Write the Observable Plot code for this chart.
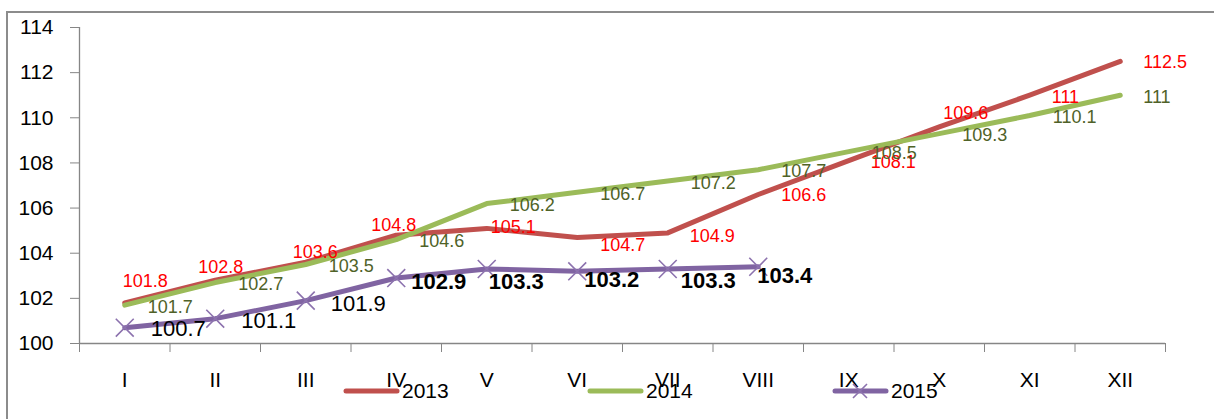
<!DOCTYPE html>
<html><head><meta charset="utf-8">
<script src="https://cdn.jsdelivr.net/npm/d3@7"></script>
<script src="https://cdn.jsdelivr.net/npm/@observablehq/plot@0.6"></script>
<style>
body{margin:0;background:#fff;overflow:hidden;font-family:"Liberation Sans",Arial,sans-serif}
#wrap{position:relative;width:1214px;height:419px;overflow:hidden;background:#fff}
#frame{position:absolute;left:6px;top:11px;width:1300px;height:500px;border:2px solid #8c8c8c;box-sizing:border-box}
#chart{position:absolute;left:0;top:0}
.leg{position:absolute;top:378px;height:26px;display:flex;align-items:center;font-size:21px;color:#000}
.leg svg{display:block;margin-right:2px}
</style></head><body>
<div id="wrap"><div id="frame"></div><div id="chart"></div><div id="legend"></div></div>
<script>
const months = ["I","II","III","IV","V","VI","VII","VIII","IX","X","XI","XII"];
const values2013 = [101.8,102.8,103.6,104.8,105.1,104.7,104.9,106.6,108.1,109.6,111,112.5];
const values2014 = [101.7,102.7,103.5,104.6,106.2,106.7,107.2,107.7,108.5,109.3,110.1,111];
const values2015 = [100.7,101.1,101.9,102.9,103.3,103.2,103.3,103.4];
const seriesNames = ["2013","2014","2015"];
const yTicks = [100,102,104,106,108,110,112,114];

// styling / label placement (not data)
const colors = {"2013":"#C0504D","2014":"#9BBB59","2015":"#8064A2"};
const labelColors = {"2013":"#FF0000","2014":"#4F6228","2015":"#000000"};
const off2013 = [[-2,-22],[-17,-13],[-13,-10],[-25,-10],[4,-1],[23,8],[22,3],[23,1],[22,2],[4,-14],[22,2],[23,1]];
const off2015 = [[26,1],[26,2],[25,3],[15,4],[2,13],[7,9],[13,12],[-1,9]];

const toRows = (vals, s) => vals.map((v,i)=>({i, month:months[i], v, s}));
const r2013 = toRows(values2013,"2013");
const r2014 = toRows(values2014,"2014");
const r2015 = toRows(values2015,"2015");
const gray = "#868686";
const X = d => d.i + 0.5;

const marks = [
  Plot.ruleX([0], {stroke: gray, strokeWidth: 1.3}),
  Plot.ruleY([100], {stroke: gray, strokeWidth: 1.3}),
  Plot.axisY({ticks: yTicks, tickSize: 9, tickPadding: 17, stroke: gray, fontSize: 21, label: null, tickFormat: d => String(d)}),
  Plot.axisX({ticks: d3.range(0,13), tickSize: 9, stroke: gray, tickFormat: () => "", label: null}),
  Plot.axisX({ticks: months.map((_,i)=>i+0.5), tickSize: 0, tickPadding: 29, fontSize: 21, label: null, tickFormat: t => months[Math.floor(t)]}),
  Plot.line(r2013, {x: X, y: "v", stroke: colors["2013"], strokeWidth: 5, strokeLinecap: "round", strokeLinejoin: "round"}),
  Plot.line(r2014, {x: X, y: "v", stroke: colors["2014"], strokeWidth: 5, strokeLinecap: "round", strokeLinejoin: "round"}),
  Plot.line(r2015, {x: X, y: "v", stroke: colors["2015"], strokeWidth: 5, strokeLinecap: "round", strokeLinejoin: "round"}),
  Plot.dot(r2015, {x: X, y: "v", symbol: "times", r: 8.2, stroke: "#8C72AE", strokeWidth: 1.6}),
  ...r2013.map(d => Plot.text([d], {x: X, y: "v", text: d => String(d.v), textAnchor: "start", dx: off2013[d.i][0], dy: off2013[d.i][1], fill: labelColors["2013"], fontSize: 18})),
  Plot.text(r2014, {x: X, y: "v", text: d => String(d.v), textAnchor: "start", dx: 23, dy: 2, fill: labelColors["2014"], fontSize: 18}),
  ...r2015.map(d => Plot.text([d], {x: X, y: "v", text: d => String(d.v), textAnchor: "start", dx: off2015[d.i][0], dy: off2015[d.i][1], fill: labelColors["2015"], fontSize: 22, fontWeight: d.i >= 3 ? "bold" : "normal"}))
];

const chart = Plot.plot({
  width: 1214, height: 419,
  marginLeft: 79, marginRight: 49, marginTop: 27, marginBottom: 76,
  x: {type: "linear", domain: [0,12], axis: null},
  y: {domain: [100,114], axis: null},
  style: {fontFamily: "Liberation Sans, Arial, sans-serif", color: "#000", background: "transparent", overflow: "visible"},
  marks
});
document.getElementById("chart").appendChild(chart);

// legend
const legendLeft = [343, 587, 832];
const legend = document.getElementById("legend");
seriesNames.forEach((s, k) => {
  const div = document.createElement("div");
  div.className = "leg";
  div.style.left = legendLeft[k] + "px";
  const marker = s === "2015" ? `<path d="M21,6 L35,20 M35,6 L21,20" stroke="#8C72AE" stroke-width="1.6"/>` : "";
  div.innerHTML = `<svg width="57" height="26"><line x1="3" y1="13" x2="54" y2="13" stroke="${colors[s]}" stroke-width="5" stroke-linecap="round"/>${marker}</svg><span>${s}</span>`;
  legend.appendChild(div);
});
</script>
</body></html>
